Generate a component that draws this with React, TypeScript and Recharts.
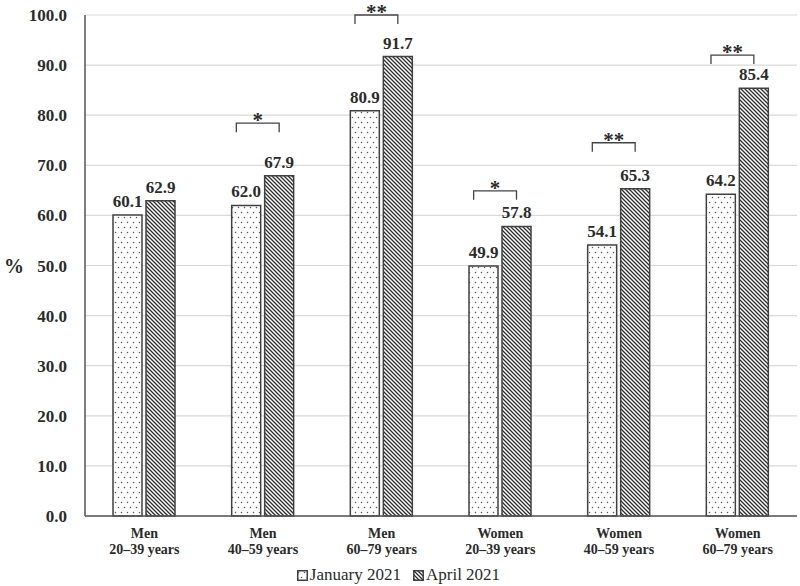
import React from 'react';
import { BarChart, Bar, XAxis, YAxis, CartesianGrid, Legend, LabelList } from 'recharts';

const sexes = ['Men', 'Men', 'Men', 'Women', 'Women', 'Women'];
const ages = ['20–39 years', '40–59 years', '60–79 years', '20–39 years', '40–59 years', '60–79 years'];
const january = [60.1, 62.0, 80.9, 49.9, 54.1, 64.2];
const april = [62.9, 67.9, 91.7, 57.8, 65.3, 85.4];
const significance = ['', '*', '**', '*', '**', '**'];
const bracketLevels = [null, 78.4, 100, 64.9, 74.5, 92.0];
const yTicks = [0, 10, 20, 30, 40, 50, 60, 70, 80, 90, 100];

const data = sexes.map((s, i) => ({
  name: `${s}\n${ages[i]}`,
  jan: january[i],
  apr: april[i],
  sig: significance[i],
  level: bracketLevels[i],
}));

const FONT = '"Liberation Serif", "Times New Roman", serif';
const TEXT = '#2b2b2b';
const BAR_W = 29;
const BAR_GAP = 4;

const XTick = (props: any) => {
  const { x, y, payload } = props;
  const [a, b] = String(payload.value).split('\n');
  return (
    <g>
      <text x={x} y={y + 22} textAnchor="middle" fontFamily={FONT} fontWeight="bold" fontSize={14} fill={TEXT}>{a}</text>
      <text x={x} y={y + 38} textAnchor="middle" fontFamily={FONT} fontWeight="bold" fontSize={14} fill={TEXT}>{b}</text>
    </g>
  );
};

const Bracket = (props: any) => {
  const { x, y, width, height, index } = props;
  const row = data[index];
  if (!row || !row.sig || row.level == null) return null;
  const base = y + height;
  const ppu = height / row.apr;
  const by = base - row.level * ppu;
  const left = x - BAR_GAP - width + 0.16 * width;
  const right = x + width / 2;
  return (
    <g>
      <path d={`M${left},${by + 9} L${left},${by} L${right},${by} L${right},${by + 9}`} fill="none" stroke="#444" strokeWidth={1.3} />
      <text x={(left + right) / 2} y={by + 4} textAnchor="middle" fontFamily={FONT} fontWeight="bold" fontSize={21} fill={TEXT}>{row.sig}</text>
    </g>
  );
};

const LegendContent = () => (
  <div style={{ height: 22, display: 'flex', justifyContent: 'center', alignItems: 'center', fontFamily: FONT, fontSize: 17, color: TEXT }}>
    <svg width={11} height={11} style={{ marginRight: 2 }}>
      <rect x={0.75} y={0.75} width={9.5} height={9.5} fill="url(#dots)" stroke="#404040" strokeWidth={1.5} />
    </svg>
    <span style={{ marginRight: 12 }}>January 2021</span>
    <svg width={11} height={11} style={{ marginRight: 2 }}>
      <rect x={0.75} y={0.75} width={9.5} height={9.5} fill="url(#hatch)" stroke="#404040" strokeWidth={1.5} />
    </svg>
    <span>April 2021</span>
  </div>
);

export default function App() {
  return (
    <div style={{ position: 'absolute', left: 0, top: 0, width: 800, height: 586, background: '#fff' }}>
      <svg width={0} height={0} style={{ position: 'absolute' }}>
        <defs>
          <pattern id="dots" patternUnits="userSpaceOnUse" width={6} height={10}>
            <rect width={6} height={10} fill="#fff" />
            <circle cx={1.5} cy={2.5} r={0.75} fill="#555" />
            <circle cx={4.5} cy={7.5} r={0.75} fill="#555" />
          </pattern>
          <pattern id="hatch" patternUnits="userSpaceOnUse" width={4} height={4}>
            <rect width={4} height={4} fill="#fff" />
            <path d="M0,0 L4,4 M-1,3 L1,5 M3,-1 L5,1" stroke="#2e2e2e" strokeWidth={1.3} />
          </pattern>
        </defs>
      </svg>
      <BarChart
        width={800}
        height={586}
        data={data}
        margin={{ top: 15, right: 3, left: 0, bottom: 0 }}
        barSize={BAR_W}
        barGap={BAR_GAP}
      >
        <CartesianGrid vertical={false} stroke="#d9d9d9" strokeWidth={1.2} />
        <XAxis
          dataKey="name"
          height={48}
          tickLine={false}
          tickSize={0}
          tickMargin={0}
          axisLine={{ stroke: '#555', strokeWidth: 1.5 }}
          tick={<XTick />}
          interval={0}
        />
        <YAxis
          domain={[0, 100]}
          ticks={yTicks}
          width={85}
          tickLine={false}
          tickSize={0}
          tickMargin={18}
          axisLine={{ stroke: '#555', strokeWidth: 1.5 }}
          tickFormatter={(v: number) => v.toFixed(1)}
          tick={{ fontFamily: FONT, fontWeight: 'bold', fontSize: 17, fill: TEXT }}
          label={{ value: '%', position: 'insideLeft', offset: 4, style: { fontFamily: FONT, fontWeight: 'bold', fontSize: 20, fill: TEXT } }}
        />
        <Legend verticalAlign="bottom" content={<LegendContent />} />
        <Bar dataKey="jan" name="January 2021" fill="url(#dots)" stroke="#404040" strokeWidth={1.5} isAnimationActive={false}>
          <LabelList dataKey="jan" position="top" offset={8} formatter={(v: any) => Number(v).toFixed(1)} style={{ fontFamily: FONT, fontWeight: 'bold', fontSize: 17, fill: TEXT }} />
        </Bar>
        <Bar dataKey="apr" name="April 2021" fill="url(#hatch)" stroke="#404040" strokeWidth={1.5} isAnimationActive={false}>
          <LabelList dataKey="apr" position="top" offset={8} formatter={(v: any) => Number(v).toFixed(1)} style={{ fontFamily: FONT, fontWeight: 'bold', fontSize: 17, fill: TEXT }} />
          <LabelList dataKey="apr" content={<Bracket />} />
        </Bar>
      </BarChart>
    </div>
  );
}
